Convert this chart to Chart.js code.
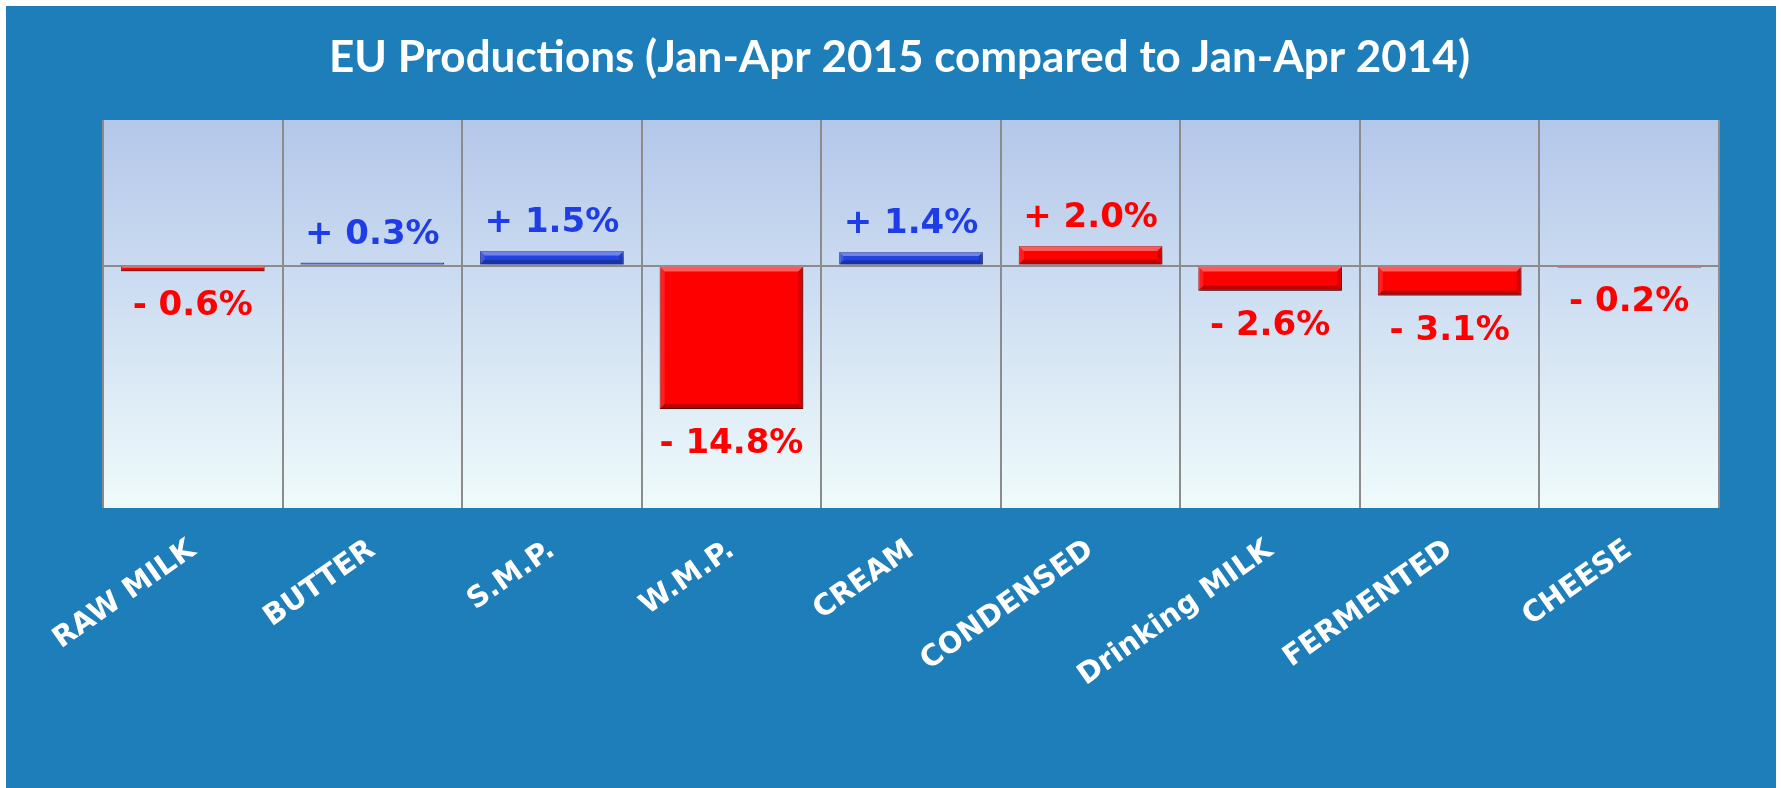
<!DOCTYPE html>
<html><head><meta charset="utf-8">
<script src="https://cdn.jsdelivr.net/npm/chart.js@4.4.1/dist/chart.umd.min.js"></script>
<style>html,body{margin:0;padding:0;background:#fff;overflow:hidden}</style>
</head><body>
<canvas id="c" width="1781" height="788"></canvas>
<script>
// ---- data ----
const categories = ['RAW MILK', 'BUTTER', 'S.M.P.', 'W.M.P.', 'CREAM', 'CONDENSED', 'Drinking MILK', 'FERMENTED', 'CHEESE'];
const changes = [-0.6, 0.3, 1.5, -14.8, 1.4, 2.0, -2.6, -3.1, -0.2];
const colorKeys = ['red', 'blue', 'blue', 'red', 'blue', 'red', 'red', 'red', 'red'];
const yMin = -25, yMax = 15, yStep = 5;
const titleText = 'EU Productions (Jan-Apr 2015 compared to Jan-Apr 2014)';

// ---- styles ----
const palette = {
  red:  { fill: '#ff0000', border: '#a80000', label: '#ff0000' },
  blue: { fill: '#2343e0', border: '#14298f', label: '#1f3de6' }
};
const BG_BLUE = '#1e7eba';
const GRID = '#8c8c8c';

function fmt(v) { return (v >= 0 ? '+ ' : '- ') + Math.abs(v).toFixed(1) + '%'; }

const framePlugin = {
  id: 'frame',
  beforeDraw(chart) {
    const ctx = chart.ctx, a = chart.chartArea;
    ctx.save();
    ctx.fillStyle = '#ffffff';
    ctx.fillRect(0, 0, chart.width, chart.height);
    ctx.fillStyle = BG_BLUE;
    ctx.fillRect(6, 6, chart.width - 11, chart.height - 6);
    const g = ctx.createLinearGradient(0, a.top, 0, a.bottom);
    g.addColorStop(0, '#b4c7e9');
    g.addColorStop(0.4, '#cbdbf1');
    g.addColorStop(1, '#effbfb');
    ctx.fillStyle = g;
    ctx.fillRect(a.left, a.top, a.right - a.left, a.bottom - a.top);
    ctx.restore();
  },
  beforeDatasetsDraw(chart) {
    const ctx = chart.ctx;
    ctx.save();
    ctx.shadowColor = 'rgba(0,0,0,0.35)';
    ctx.shadowBlur = 6;
    ctx.shadowOffsetX = 2;
    ctx.shadowOffsetY = 4;
  },
  afterDatasetsDraw(chart) {
    const ctx = chart.ctx;
    ctx.restore();
    const meta = chart.getDatasetMeta(0);
    meta.data.forEach((el, i) => {
      const p = el.getProps(['x', 'y', 'base', 'width'], true);
      const L = p.x - p.width / 2, R = p.x + p.width / 2;
      const T = Math.min(p.y, p.base), B = Math.max(p.y, p.base);
      const b = Math.max(0.5, Math.min(5, (B - T) / 3, (R - L) / 4));
      const poly = (pts, c) => {
        ctx.beginPath(); ctx.moveTo(pts[0][0], pts[0][1]);
        for (let k = 1; k < pts.length; k++) ctx.lineTo(pts[k][0], pts[k][1]);
        ctx.closePath(); ctx.fillStyle = c; ctx.fill();
      };
      ctx.save();
      poly([[L, T], [R, T], [R - b, T + b], [L + b, T + b]], 'rgba(255,255,255,0.35)');
      poly([[L, T], [L + b, T + b], [L + b, B - b], [L, B]], 'rgba(255,255,255,0.12)');
      poly([[R, T], [R, B], [R - b, B - b], [R - b, T + b]], 'rgba(0,0,0,0.15)');
      poly([[L, B], [R, B], [R - b, B - b], [L + b, B - b]], 'rgba(0,0,0,0.25)');
      ctx.restore();
      // value label
      const v = changes[i];
      ctx.save();
      ctx.font = 'bold 34px "DejaVu Sans"';
      ctx.fillStyle = palette[colorKeys[i]].label;
      ctx.textAlign = 'center';
      ctx.textBaseline = 'alphabetic';
      const y = v >= 0 ? T - 19 : B + 19 + 25;
      ctx.fillText(fmt(v), p.x, y);
      ctx.restore();
    });
  }
};

new Chart(document.getElementById('c'), {
  type: 'bar',
  data: {
    labels: categories,
    datasets: [{
      data: changes,
      backgroundColor: colorKeys.map(k => palette[k].fill),
      borderColor: colorKeys.map(k => palette[k].border),
      borderWidth: 1,
      barPercentage: 0.8,
      categoryPercentage: 1.0
    }]
  },
  options: {
    responsive: false,
    animation: false,
    devicePixelRatio: 1,
    layout: { padding: { left: 80, right: 62, top: 6, bottom: 0 } },
    plugins: {
      legend: { display: false },
      tooltip: { enabled: false },
      title: {
        display: true,
        text: titleText,
        color: '#ffffff',
        font: { family: 'Lato', weight: 'bold', size: 44, lineHeight: 1 },
        padding: { top: 30, bottom: 40 }
      }
    },
    scales: {
      x: {
        grid: { offset: true, color: GRID, lineWidth: 2, drawTicks: false },
        border: { display: false },
        ticks: {
          color: '#ffffff',
          font: { family: 'DejaVu Sans', weight: 'bold', size: 29 },
          minRotation: 35, maxRotation: 35,
          autoSkip: false,
          padding: 25
        },
        afterFit(s) { s.height = 280; }
      },
      y: {
        min: yMin, max: yMax,
        ticks: { display: false, stepSize: yStep },
        grid: {
          drawTicks: false,
          lineWidth: 2,
          color: c => (c.tick && c.tick.value === 0) ? GRID : 'rgba(0,0,0,0)'
        },
        border: { display: false },
        afterFit(s) { s.width = 23; }
      }
    }
  },
  plugins: [framePlugin]
});
</script>
</body></html>
